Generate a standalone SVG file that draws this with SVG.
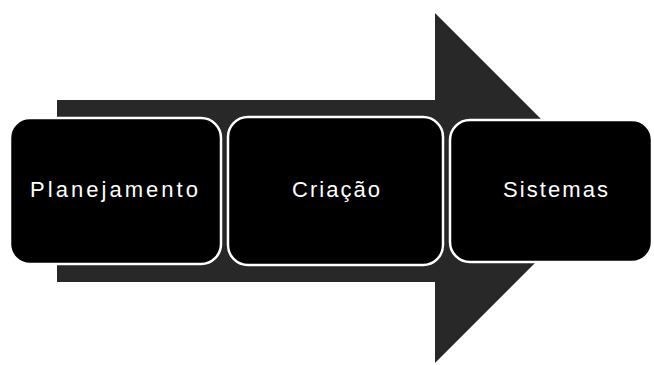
<svg xmlns="http://www.w3.org/2000/svg" width="654" height="365" viewBox="0 0 654 365">
<style>
.box{fill:#000;stroke:#fff;stroke-width:2.5}
.lbl{fill:#fff;font-family:"Liberation Sans",Arial,sans-serif;font-size:22px}
.arrow{fill:#282828}
</style>
<rect width="654" height="365" fill="#fff"/>
<g id="connectors">
<polygon class="arrow" points="57,100 435,100 435,13 610,188 435,363 435,282 57,282"/>
</g>
<g id="node-planejamento">
<rect class="box" x="10" y="118" width="211" height="146" rx="20"/>
<text class="lbl" x="30" y="197" textLength="168" lengthAdjust="spacing">Planejamento</text>
</g>
<g id="node-criacao">
<rect class="box" x="228" y="117" width="215" height="148" rx="20"/>
<text class="lbl" x="292" y="197" textLength="88" lengthAdjust="spacing">Criação</text>
</g>
<g id="node-sistemas">
<rect class="box" x="450" y="120" width="202" height="142" rx="20"/>
<text class="lbl" x="503" y="197" textLength="105" lengthAdjust="spacing">Sistemas</text>
</g>
</svg>
